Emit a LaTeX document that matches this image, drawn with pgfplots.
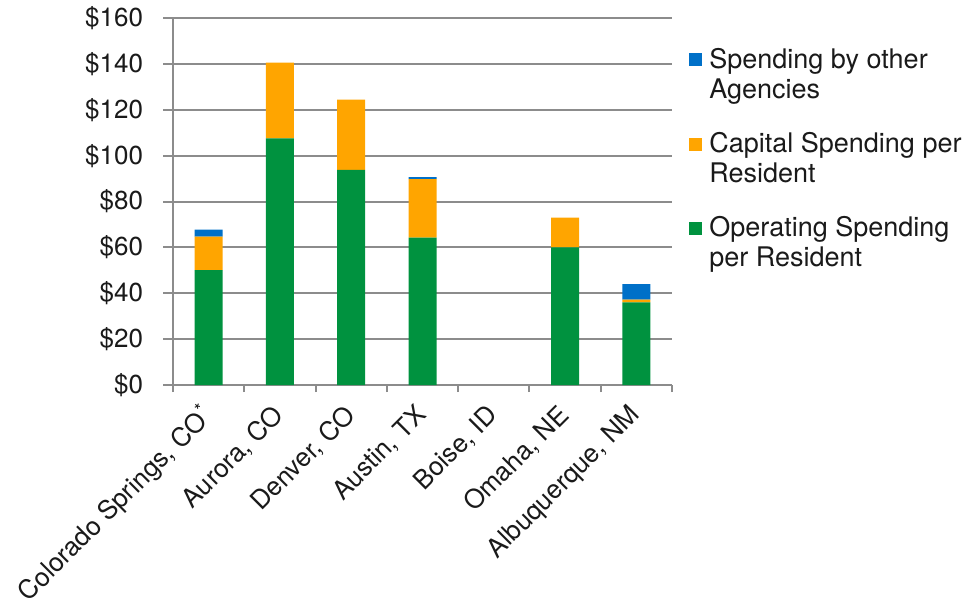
\documentclass[border=0pt]{standalone}
\usepackage{fontspec}
\setmainfont{TeX Gyre Heros}
\usepackage{pgfplots}
\usetikzlibrary{calc}
\pgfplotsset{compat=1.18}
\definecolor{opgreen}{RGB}{0,146,63}
\definecolor{caporange}{RGB}{255,165,0}
\definecolor{othblue}{RGB}{0,112,200}
\definecolor{axgray}{RGB}{140,140,140}
\definecolor{txt}{RGB}{26,26,26}
\begin{document}
\begin{tikzpicture}
\begin{axis}[
  scale only axis, width=249.5bp, height=183.5bp,
  ybar stacked, bar width=14bp,
  xmin=-0.5, xmax=6.5, ymin=0, ymax=160,
  ytick={0,20,...,160},
  yticklabel={\$\pgfmathprintnumber{\tick}},
  /pgf/number format/assume math mode=true,
  axis x line*=bottom, axis y line*=left,
  axis line style={axgray, line width=1bp},
  ymajorgrids, grid style={axgray, line width=1bp},
  tick align=outside,
  major tick length=5bp,
  tick style={axgray, line width=1bp},
  xtick={0,...,6},
  xticklabels={{Colorado Springs, CO\textsuperscript{*}},{Aurora, CO},{Denver, CO},{Austin, TX},{Boise, ID},{Omaha, NE},{Albuquerque, NM}},
  xtick style={draw=none},
  extra x ticks={-0.5,0.5,...,6.5},
  extra x tick labels={},
  extra x tick style={major tick length=3.5bp, xtick style={draw=axgray}},
  ticklabel style={font=\fontsize{13bp}{15bp}\selectfont, text=txt},
  yticklabel style={xshift=-6.5bp},
  xticklabel style={inner sep=0pt, anchor=east, yshift=-8bp, rotate=45},
  legend style={at={(1,1)}, anchor=north west, xshift=8.5bp, yshift=-13bp,
    draw=none, fill=none, inner sep=0pt,
    font=\fontsize{13.5bp}{15bp}\selectfont, text=txt,
    cells={anchor=west, align=left}, row sep=11.5bp, column sep=1.5bp},
  legend image code/.code={\fill[#1] (0bp,4.25bp) rectangle (6.5bp,10.75bp);
     \path[draw=none, fill=none] (0bp,-10.75bp);},
  reverse legend,
]
\addplot[fill=opgreen, draw=none] coordinates {(0,50.1) (1,107.5) (2,93.8) (3,64.2) (4,0) (5,60) (6,36)};
\addlegendentry{Operating Spending\\per Resident}
\addplot[fill=caporange, draw=none] coordinates {(0,14.6) (1,33) (2,30.6) (3,25.6) (4,0) (5,13) (6,1.2)};
\addlegendentry{Capital Spending per\\Resident}
\addplot[fill=othblue, draw=none] coordinates {(0,3) (1,0) (2,0) (3,0.8) (4,0) (5,0) (6,6.8)};
\addlegendentry{Spending by other\\Agencies}
\end{axis}
\pgfresetboundingbox
\path (current axis.south west) ++(-86.5bp,-112.5bp) rectangle ($(current axis.north east)+(152bp,9bp)$);
\end{tikzpicture}
\end{document}
